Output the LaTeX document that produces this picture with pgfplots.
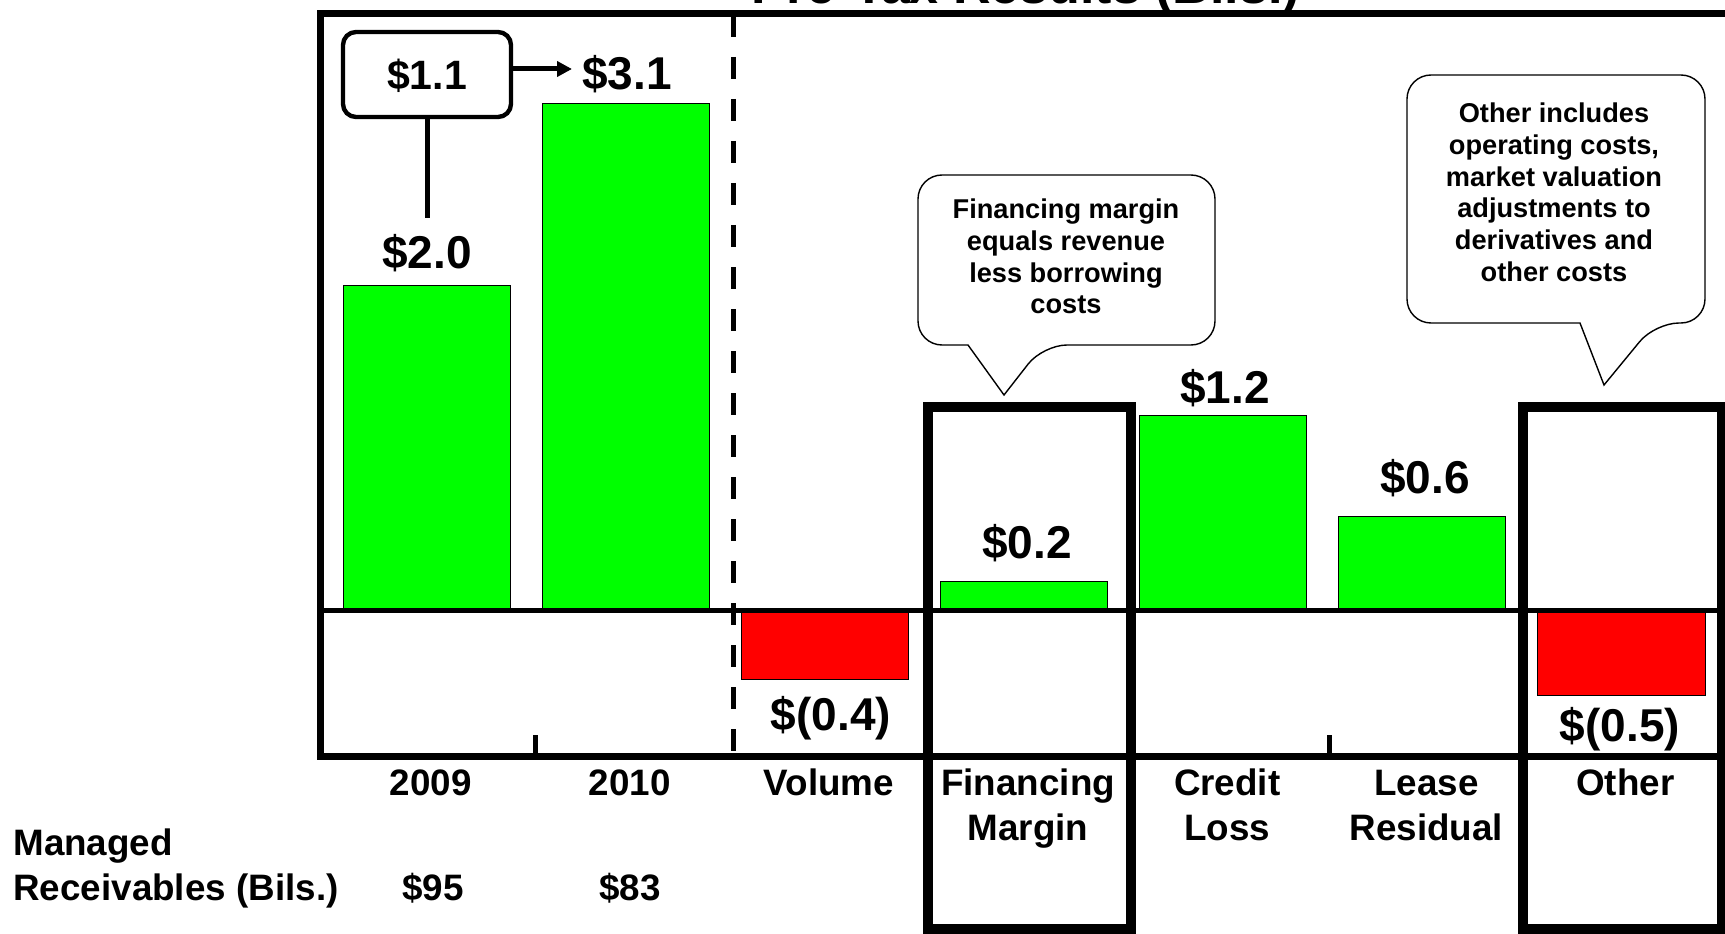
\documentclass[border=0pt]{standalone}
\usepackage{fontspec}
\setmainfont{Liberation Sans}
\usepackage{pgfplots}
\pgfplotsset{compat=1.18}
\usetikzlibrary{arrows.meta}
\definecolor{barGreen}{HTML}{00FF00}
\definecolor{barRed}{HTML}{FF0000}
\begin{document}
\begin{tikzpicture}
\begin{axis}[
  x=99.55pt, y=81.4pt,
  xmin=-0.5314, xmax=6.6, ymin=-0.8907, ymax=3.6732,
  axis line style={line width=3.5pt},
  ytick=\empty,
  xtick={0,1,2,3,4,5,6},
  xticklabels={{\strut 2009},{\strut 2010},{\strut Volume},{\strut Financing\\Margin},{\strut Credit\\Loss},{\strut Lease\\Residual},{\strut Other}},
  major tick length=0pt,
  xticklabel style={anchor=north, inner sep=0pt, yshift=-3.75pt, xshift=2pt, align=center, font=\fontsize{18.4}{22.5}\selectfont\bfseries},
  clip=false,
]
\addplot[ybar, bar width=0.84, fill=barGreen, draw=black, line width=0.5pt] coordinates {(0,2.0) (1,3.12) (3,0.18) (4,1.2) (5,0.58)};
\addplot[ybar, bar width=0.84, fill=barRed, draw=black, line width=0.5pt] coordinates {(2,-0.42) (6,-0.52)};
\coordinate (P0) at (axis cs:-2.14365,3.75307);
\end{axis}
\begin{scope}[shift={(P0)}, x=0.5pt, y=-0.5pt]
  % title (mostly cropped, as in the reference)
  \node[anchor=base, font=\fontsize{26}{30}\selectfont\bfseries] at (1026,4) {Pre-Tax Results (Bils.)};
  % dashed separator
  \draw[line width=2.5pt, dash pattern=on 11pt off 10pt] (733,15) -- (733,756);
  % boundary ticks
  \draw[line width=2.5pt] (535,756) -- (535,735);
  \draw[line width=2.5pt] (1329,756) -- (1329,735);
  % zero line
  \draw[line width=2.5pt] (321,610.5) -- (1725,610.5);
  % highlight boxes
  \draw[line width=5pt] (928,407) rectangle (1131,929);
  \draw[line width=5pt] (1523,407) rectangle (1722,929);
  % callouts
  \draw[line width=0.7pt, fill=white] (968,345) [rounded corners=12pt] -- (918,345) -- (918,175) -- (1215,175) -- (1215,345) -- (1043,345) [sharp corners] -- (1004,395) -- cycle;
  \draw[line width=0.7pt, fill=white] (1580,323) [rounded corners=12pt] -- (1407,323) -- (1407,75) -- (1705,75) -- (1705,323) -- (1655,323) [sharp corners] -- (1604,385) -- cycle;
  \begin{scope}[every node/.style={anchor=base, font=\fontsize{13.6}{15.8}\selectfont\bfseries}]
    \node at (1066,219) {Financing margin};
    \node at (1066,250.5) {equals revenue};
    \node at (1066,282) {less borrowing};
    \node at (1066,313.5) {costs};
    \node at (1554,123) {Other includes};
    \node at (1554,155) {operating costs,};
    \node at (1554,186.5) {market valuation};
    \node at (1554,218) {adjustments to};
    \node at (1554,250) {derivatives and};
    \node at (1554,281.5) {other costs};
  \end{scope}
  % $1.1 box and connectors
  \draw[line width=2.2pt, rounded corners=6.5pt] (343,32) rectangle (511,117);
  \node[anchor=base, font=\fontsize{20.5}{24}\selectfont\bfseries] at (427,90) {\$1.1};
  \draw[line width=2.5pt] (427,117) -- (427,218);
  \draw[line width=2.5pt, -{Triangle[length=7.5pt,width=7.5pt]}] (511,69) -- (572,69);
  % value labels
  \begin{scope}[every node/.style={anchor=base, font=\fontsize{23}{27}\selectfont\bfseries}]
    \node at (427,268) {\$2.0};
    \node at (627,90) {\$3.1};
    \node at (831,730) {\$(0.4)};
    \node at (1027,558) {\$0.2};
    \node at (1225,403) {\$1.2};
    \node at (1425,493) {\$0.6};
    \node at (1620,741) {\$(0.5)};
  \end{scope}
  % managed receivables row
  \begin{scope}[every node/.style={inner sep=0pt, font=\fontsize{18.4}{22.5}\selectfont\bfseries}]
    \node[anchor=base west] at (13,855) {Managed};
    \node[anchor=base west] at (13,900) {Receivables (Bils.)};
    \node[anchor=base] at (433,900) {\$95};
    \node[anchor=base] at (630,900) {\$83};
  \end{scope}
\end{scope}
\pgfresetboundingbox
\path (P0) rectangle ++(862.5pt,-466.5pt);
\end{tikzpicture}
\end{document}
